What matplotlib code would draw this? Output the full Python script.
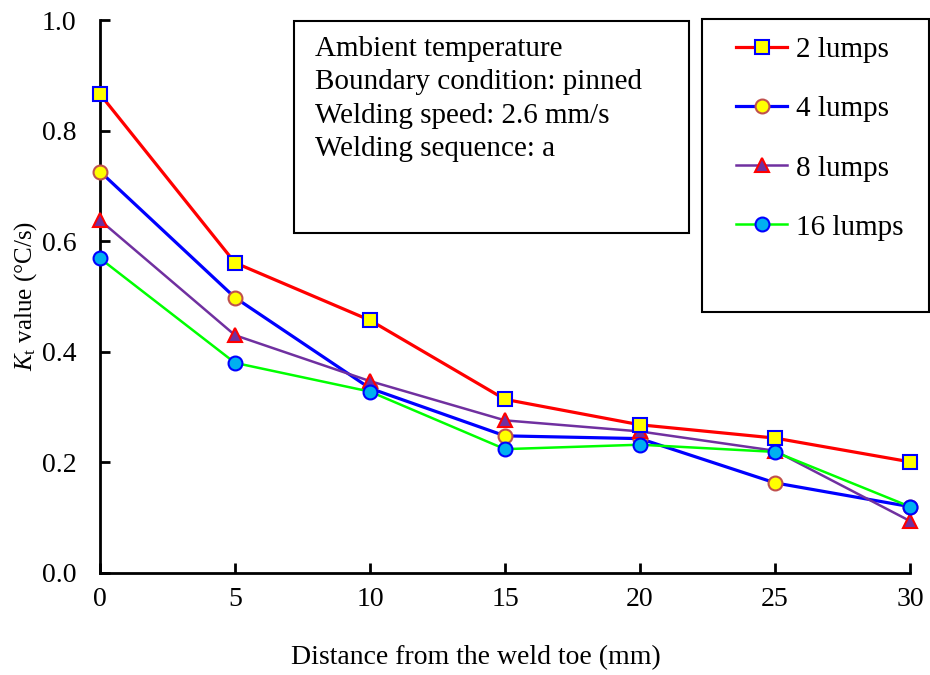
import matplotlib
matplotlib.use('Agg')
import matplotlib.pyplot as plt

plt.rcParams['font.family'] = 'Liberation Serif'
plt.rcParams['mathtext.fontset'] = 'custom'
plt.rcParams['mathtext.rm'] = 'Liberation Serif'
plt.rcParams['mathtext.it'] = 'Liberation Serif:italic'

x = [0, 5, 10, 15, 20, 25, 30]
lumps2 = [0.866, 0.561, 0.457, 0.314, 0.268, 0.244, 0.201]
lumps4 = [0.726, 0.498, 0.334, 0.248, 0.243, 0.163, 0.120]
lumps8 = [0.638, 0.430, 0.347, 0.276, 0.256, 0.221, 0.094]
lumps16 = [0.569, 0.380, 0.328, 0.224, 0.232, 0.219, 0.120]
labels = ['2 lumps', '4 lumps', '8 lumps', '16 lumps']
note = 'Ambient temperature\nBoundary condition: pinned\nWelding speed: 2.6 mm/s\nWelding sequence: a'

fs = 20
fig = plt.figure(figsize=(9.3, 6.75), dpi=100)
ax = fig.add_axes([100/930, 1-573/675, 810/930, 553/675])

ax.plot(x, lumps2, '-s', color='#FF0000', lw=2.3, ms=10, mfc='#FFFF00', mec='#0000FF', mew=1.5, label=labels[0], clip_on=False, zorder=4)
ax.plot(x, lumps4, '-o', color='#0000FF', lw=2.3, ms=10, mfc='#FFFF00', mec='#C0504D', mew=1.5, label=labels[1], clip_on=False, zorder=3)
ax.plot(x, lumps8, '-^', color='#7030A0', lw=1.8, ms=10, mfc='#7030A0', mec='#FF0000', mew=1.5, label=labels[2], clip_on=False, zorder=3)
ax.plot(x, lumps16, '-o', color='#00FF00', lw=1.8, ms=10, mfc='#00B0F0', mec='#0000FF', mew=1.5, label=labels[3], clip_on=False, zorder=3)

ax.set_xlim(0, 30)
ax.set_ylim(0, 1.0)
ax.set_xticks(x)
ax.set_yticks([0, 0.2, 0.4, 0.6, 0.8, 1.0])
ax.set_yticklabels(['0.0', '0.2', '0.4', '0.6', '0.8', '1.0'])
ax.spines['top'].set_visible(False)
ax.spines['right'].set_visible(False)
ax.spines['left'].set_linewidth(2)
ax.spines['bottom'].set_linewidth(2)
ax.tick_params(direction='in', length=7, width=2, labelsize=fs)
ax.tick_params(axis='x', pad=10)
ax.tick_params(axis='y', pad=17)

ax.set_xlabel('Distance from the weld toe (mm)', fontsize=fs)
ax.xaxis.set_label_coords((476-100)/810, -(645-573)/553)
ax.set_ylabel(r'$\mathit{K}_\mathrm{t}$ value (°C/s)', fontsize=18)
ax.yaxis.set_label_coords(-(100-39)/810, 0.5)

# note box
fig.text(315/930, 1-36/675, note, fontsize=21, va='top', ha='left', linespacing=1.37)
fig.patches.append(plt.Rectangle((294/930, 1-233/675), 395/930, 212/675, transform=fig.transFigure,
                                 fill=False, ec='black', lw=1.5))

# legend box
leg = fig.legend(loc='upper left', bbox_to_anchor=(736/930, 1-37/675), fontsize=21, frameon=False,
                 labelspacing=1.12, handlelength=1.75, handletextpad=0.3, borderpad=0, borderaxespad=0)
fig.patches.append(plt.Rectangle((702/930, 1-312/675), 227/930, 293/675, transform=fig.transFigure,
                                 fill=False, ec='black', lw=1.5))

fig.savefig('out.png', dpi=100)
